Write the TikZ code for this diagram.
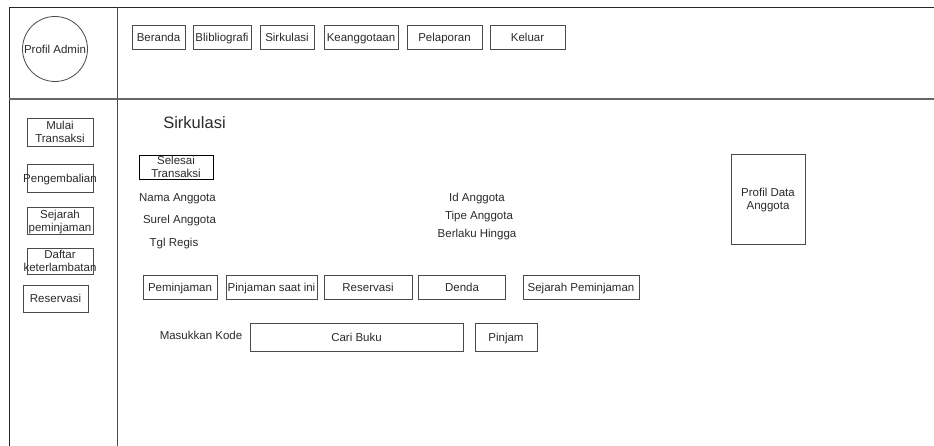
\documentclass[tikz,border=0pt]{standalone}
\usepackage{fontspec}
\setmainfont{Liberation Sans}
\definecolor{linec}{HTML}{4A4A4A}
\definecolor{txt}{HTML}{2B2B2B}
% one centred line of zero width whose box is exactly the cap height
\newcommand{\cl}[1]{\makebox[0pt]{\smash{#1}\rule{0pt}{8.2pt}}}
\begin{document}
\begin{tikzpicture}[x=1pt,y=-1pt,
  every node/.style={text=txt,font=\fontsize{11.5}{13}\selectfont,inner sep=0pt},
  box/.style={draw=linec,line width=0.8pt,align=center},
  frame/.style={draw=linec,line width=0.9pt},
  lbl/.style={}]
\useasboundingbox[fill=white] (0,0) rectangle (934,446);
% page frame and dividers
\draw[frame,draw=black!85] (9,446) -- (9,7) -- (934,7);
\draw[frame] (117,7) -- (117,446);
\draw[frame,line width=1.2pt,draw=gray!80!black] (9,99) -- (934,99);
% header
\node[box,circle,minimum size=65pt] (admin) at (55,49) {\cl{Profil Admin}};
\node[box,minimum width=53pt,minimum height=24pt] (beranda) at (158.5,37) {\cl{Beranda}};
\node[box,minimum width=58pt,minimum height=24pt] (biblio) at (222,37) {\cl{Blibliografi}};
\node[box,minimum width=54pt,minimum height=24pt] (sirk) at (287,37) {\cl{Sirkulasi}};
\node[box,minimum width=74pt,minimum height=24pt] (anggota) at (361,37) {\cl{Keanggotaan}};
\node[box,minimum width=75pt,minimum height=24pt] (lapor) at (444.5,37) {\cl{Pelaporan}};
\node[box,minimum width=75pt,minimum height=24pt] (keluar) at (527.5,37) {\cl{Keluar}};
% side menu
\node[box,minimum width=66pt,minimum height=28pt] (mulai) at (60,132) {\cl{Mulai}\\\cl{Transaksi}};
\node[box,minimum width=66pt,minimum height=28pt] (kembali) at (60,178) {\cl{Pengembalian}};
\node[box,minimum width=66pt,minimum height=27pt] (sejarah) at (60,220.5) {\cl{Sejarah}\\\cl{peminjaman}};
\node[box,minimum width=66pt,minimum height=26pt] (telat) at (60,261) {\cl{Daftar}\\\cl{keterlambatan}};
\node[box,minimum width=65pt,minimum height=27pt] (resside) at (55.5,298.5) {\cl{Reservasi}};
% content
\node[font=\fontsize{16.5}{19}\selectfont] (judul) at (194.5,123) {Sirkulasi};
\node[box,draw=black,minimum width=74pt,minimum height=24pt] (selesai) at (176,167) {\cl{Selesai}\\\cl{Transaksi}};
\node[lbl] (nama) at (177.5,197) {\cl{Nama Anggota}};
\node[lbl] (surel) at (179.5,219) {\cl{Surel Anggota}};
\node[lbl] (tgl) at (174,242) {\cl{Tgl Regis}};
\node[lbl] (idang) at (477,197) {\cl{Id Anggota}};
\node[lbl] (tipe) at (479,215) {\cl{Tipe Anggota}};
\node[lbl] (berlaku) at (477,233) {\cl{Berlaku Hingga}};
\node[box,minimum width=74pt,minimum height=90pt] (profil) at (768,199) {\cl{Profil Data}\\\cl{Anggota}};
% tabs
\node[box,minimum width=74pt,minimum height=24pt] (pinjam1) at (180,287) {\cl{Peminjaman}};
\node[box,minimum width=91pt,minimum height=24pt] (saatini) at (271.5,287) {\cl{Pinjaman saat ini}};
\node[box,minimum width=88pt,minimum height=24pt] (reserv) at (368,287) {\cl{Reservasi}};
\node[box,minimum width=87pt,minimum height=24pt] (denda) at (462,287) {\cl{Denda}};
\node[box,minimum width=116pt,minimum height=24pt] (sejpinjam) at (581,287) {\cl{Sejarah Peminjaman}};
% search row
\node[lbl] (kode) at (201,335) {\cl{Masukkan Kode}};
\node[box,minimum width=213pt,minimum height=28pt] (cari) at (356.5,337) {\cl{Cari Buku}};
\node[box,minimum width=62pt,minimum height=28pt] (pinjam) at (506,337) {\cl{Pinjam}};
\end{tikzpicture}
\end{document}
